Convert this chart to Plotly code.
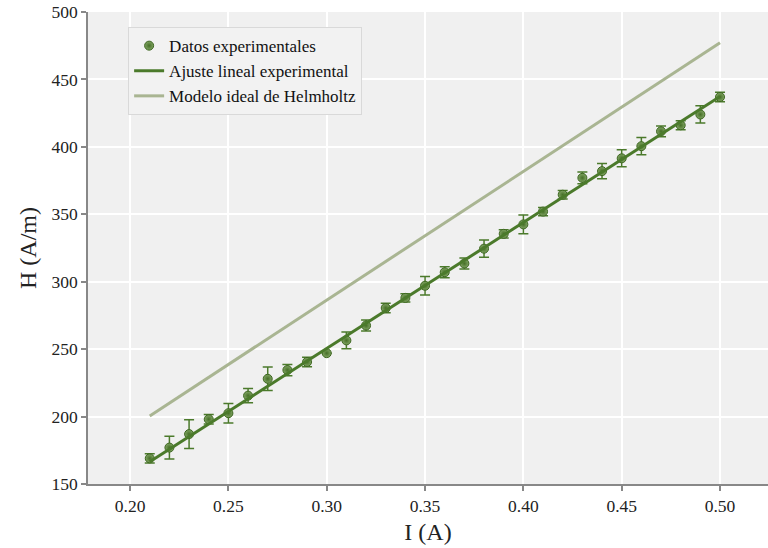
import plotly.graph_objects as go

# Data
current = [0.21, 0.22, 0.23, 0.24, 0.25, 0.26, 0.27, 0.28, 0.29, 0.30,
           0.31, 0.32, 0.33, 0.34, 0.35, 0.36, 0.37, 0.38, 0.39, 0.40,
           0.41, 0.42, 0.43, 0.44, 0.45, 0.46, 0.47, 0.48, 0.49, 0.50]
h_exp = [169, 177, 187, 198, 202.5, 215.5, 228, 234.5, 240.5, 247,
         256.5, 267.5, 280.5, 288, 297, 307, 313.5, 324.5, 335.5, 342.5,
         352, 364.5, 377, 382, 391.5, 400.5, 411.5, 416, 424, 437]
h_err = [3.5, 8.5, 10.6, 3.5, 7.2, 5.3, 8.7, 4.2, 3.5, 0,
         6.3, 4.1, 3.5, 3, 6.9, 4.1, 4.1, 6.4, 3, 7,
         3, 3.2, 4.3, 5.6, 6.3, 6.4, 4, 3.4, 6.4, 3.5]

fit_x = [0.21, 0.50]
fit_y = [166.5, 437.3]
ideal_x = [0.21, 0.50]
ideal_y = [200.5, 477.2]

x_ticks = [0.20, 0.25, 0.30, 0.35, 0.40, 0.45, 0.50]
x_ticklabels = ["0.20", "0.25", "0.30", "0.35", "0.40", "0.45", "0.50"]
y_ticks = [150, 200, 250, 300, 350, 400, 450, 500]

GREEN = "#4b7a2b"
LIGHT = "#a9b592"
FONT = "Times New Roman, Liberation Serif, DejaVu Serif, serif"

fig = go.Figure()
fig.add_trace(go.Scatter(
    x=current, y=h_exp, mode="markers", name="Datos experimentales",
    marker=dict(size=9, color="#80a463", line=dict(color="#3d6620", width=1),
                gradient=dict(type="radial", color="#466f27")),
    error_y=dict(type="data", array=h_err, visible=True, color=GREEN,
                 thickness=1.5, width=5),
))
fig.add_trace(go.Scatter(
    x=fit_x, y=fit_y, mode="lines", name="Ajuste lineal experimental",
    line=dict(color=GREEN, width=3),
))
fig.add_trace(go.Scatter(
    x=ideal_x, y=ideal_y, mode="lines", name="Modelo ideal de Helmholtz",
    line=dict(color=LIGHT, width=3),
))

axis_common = dict(
    showgrid=True, gridcolor="white", gridwidth=2,
    showline=True, linecolor="#888888", linewidth=1.5,
    ticks="outside", ticklen=5, tickcolor="#888888", tickwidth=1.5,
    tickfont=dict(family=FONT, size=17.5, color="#222222"),
    zeroline=False,
)

fig.update_layout(
    width=768, height=548,
    margin=dict(l=88, r=0, t=12, b=64),
    paper_bgcolor="white", plot_bgcolor="#f0f0f0",
    font=dict(family=FONT, color="#222222", size=17),
    xaxis=dict(range=[0.1786, 0.5244], tickvals=x_ticks, ticktext=x_ticklabels,
               title=dict(text="I (A)", font=dict(family=FONT, size=24), standoff=8),
               **axis_common),
    yaxis=dict(range=[150, 500], tickvals=y_ticks,
               title=dict(text="H (A/m)", font=dict(family=FONT, size=24), standoff=8),
               **axis_common),
    legend=dict(x=0.059, y=0.968, xanchor="left", yanchor="top",
                bgcolor="#f2f2f2", bordercolor="#d9d9d9", borderwidth=1,
                font=dict(family=FONT, size=17, color="#111111"),
                tracegroupgap=0, itemwidth=30),
    showlegend=True,
)

fig.write_html("out.html")
